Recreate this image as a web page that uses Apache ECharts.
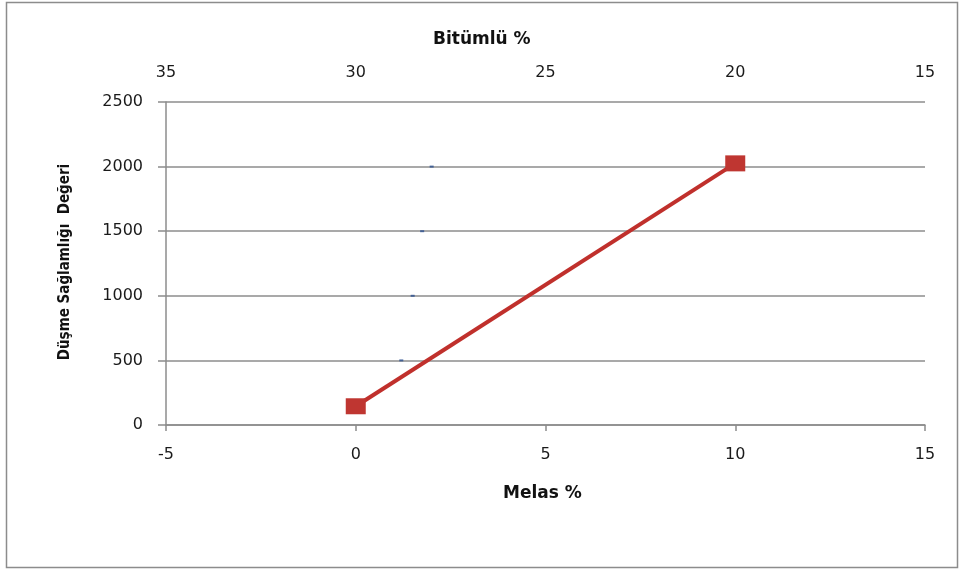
<!DOCTYPE html>
<html>
<head>
<meta charset="utf-8">
<script src="https://cdn.jsdelivr.net/npm/echarts@6/dist/echarts.min.js"></script>
<style>
  html, body { margin: 0; padding: 0; background: #fff; }
  #chart { width: 962px; height: 572px; }
</style>
</head>
<body>
<div id="chart"></div>
<script>
// Melas % against drop strength value
const melasPct = [0, 10];
const dropStrength = [145, 2025];

// Faint marks plotted against the Bitümlü % (top) axis
const bitumluPct = [28.8, 28.5, 28.25, 28.0];
const bitumluStrength = [500, 1000, 1500, 2000];

// Axis ranges
const bottomAxis = { min: -5, max: 15, step: 5 };
const topAxis = { min: 15, max: 35, step: 5 };
const leftAxis = { min: 0, max: 2500, step: 500 };

const labelFont = { fontFamily: 'DejaVu Sans', fontSize: 16, color: '#1a1a1a' };
const titleFont = 'bold 17px "DejaVu Sans"';
const plain = v => String(v);

const chart = echarts.init(document.getElementById('chart'));
chart.setOption({
  animation: false,
  backgroundColor: '#ffffff',
  grid: { left: 166, right: 37, top: 102, bottom: 147, containLabel: false },
  xAxis: [
    {
      type: 'value', position: 'bottom',
      min: bottomAxis.min, max: bottomAxis.max, interval: bottomAxis.step,
      axisLine: { show: true, onZero: false, lineStyle: { color: '#8c8c8c', width: 1.5 } },
      axisTick: { show: true, length: 6, lineStyle: { color: '#8c8c8c', width: 1.5 } },
      axisLabel: Object.assign({ margin: 22, formatter: plain }, labelFont),
      splitLine: { show: false }
    },
    {
      type: 'value', position: 'top', inverse: true,
      min: topAxis.min, max: topAxis.max, interval: topAxis.step,
      axisLine: { show: false },
      axisTick: { show: false },
      axisLabel: Object.assign({ margin: 21, formatter: plain }, labelFont),
      splitLine: { show: false }
    }
  ],
  yAxis: {
    type: 'value',
    min: leftAxis.min, max: leftAxis.max, interval: leftAxis.step,
    axisLine: { show: true, onZero: false, lineStyle: { color: '#8c8c8c', width: 1.5 } },
    axisTick: { show: true, length: 8, lineStyle: { color: '#8c8c8c', width: 1.5 } },
    axisLabel: Object.assign({ margin: 23, formatter: plain }, labelFont),
    splitLine: { show: true, lineStyle: { color: '#8c8c8c', width: 1.5 } }
  },
  graphic: [
    {
      type: 'rect', silent: true,
      shape: { x: 6.5, y: 2.5, width: 951, height: 565 },
      style: { fill: 'none', stroke: '#8c8c8c', lineWidth: 1.5 }
    },
    {
      type: 'text', left: 433, top: 31,
      style: { text: 'Bitümlü %', font: titleFont, fill: '#111' }
    },
    {
      type: 'text', left: 503, top: 485,
      style: { text: 'Melas %', font: titleFont, fill: '#111' }
    },
    {
      type: 'text', x: 65, y: 262, rotation: Math.PI / 2,
      style: {
        text: 'Düşme Sağlamlığı  Değeri',
        font: 'bold 15px "Liberation Sans Narrow", "DejaVu Sans Condensed", sans-serif',
        fill: '#111', align: 'center', verticalAlign: 'middle'
      }
    }
  ],
  series: [
    {
      type: 'line',
      xAxisIndex: 0,
      data: melasPct.map((m, i) => [m, dropStrength[i]]),
      lineStyle: { color: '#c0302c', width: 4 },
      itemStyle: { color: '#bf3631' },
      symbol: 'rect',
      symbolSize: [20, 16],
      showSymbol: true,
      z: 3
    },
    {
      type: 'scatter',
      xAxisIndex: 1,
      data: bitumluPct.map((b, i) => [b, bitumluStrength[i]]),
      symbol: 'rect',
      symbolSize: [4, 2],
      itemStyle: { color: '#2a4f8f' },
      z: 4
    }
  ]
});
</script>
</body>
</html>
